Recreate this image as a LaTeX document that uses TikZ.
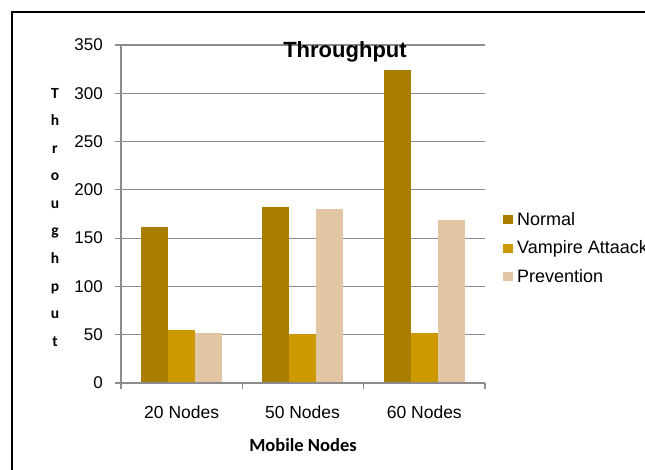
\documentclass[tikz,border=0pt]{standalone}
\usepackage{fontspec}
\setmainfont{Liberation Sans}
\newfontfamily\calibfont{Carlito}
\definecolor{cnormal}{RGB}{168,125,0}
\definecolor{cvamp}{RGB}{204,153,0}
\definecolor{cprev}{RGB}{226,197,163}
\definecolor{cgrid}{RGB}{140,140,140}
\begin{document}
\begin{tikzpicture}[x=1pt,y=-1pt,
  gridline/.style={draw=cgrid,line width=1.2pt},
  axisline/.style={draw=cgrid,line width=1.2pt},
  ticklab/.style={font=\fontsize{17}{17}\selectfont,inner sep=0pt,anchor=east},
  catlab/.style={font=\fontsize{17.5}{17.5}\selectfont,inner sep=0pt,anchor=base},
  ylet/.style={font=\calibfont\fontsize{15.5}{15.5}\selectfont\bfseries,inner sep=0pt,anchor=base},
  legtext/.style={font=\fontsize{18}{18}\selectfont,inner sep=0pt,anchor=base west},
  legbox/.style={minimum size=9.5pt,inner sep=0pt,draw=none},
  bar/.style={draw=none}]
\useasboundingbox (0,0) rectangle (645,470);
\fill[white] (0,0) rectangle (645,470);
% frame
\draw[line width=2.4pt] (12,480) -- (12,12) -- (660,12);
% gridlines and ticks
\foreach \v in {50,100,...,350} {
  \draw[gridline] (121,{383-0.9657*\v}) -- (485,{383-0.9657*\v});
}
\foreach \v in {0,50,...,350} {
  \draw[axisline] (115,{383-0.9657*\v}) -- (121,{383-0.9657*\v});
  \node[ticklab] (t\v) at (103,{383-0.9657*\v}) {\v};
}
% bars
\foreach \g/\a/\b/\c in {0/162/55/52, 1/182/51/180, 2/324/52/169} {
  \pgfmathsetmacro{\xs}{141+121.3*\g}
  \fill[cnormal] (\xs,383) rectangle ({\xs+27},{383-0.9657*\a});
  \fill[cvamp] ({\xs+27},383) rectangle ({\xs+54},{383-0.9657*\b});
  \fill[cprev] ({\xs+54},383) rectangle ({\xs+81},{383-0.9657*\c});
}
% axes
\draw[axisline] (121,45) -- (121,383) -- (485,383);
\foreach \x in {121,242.3,363.7,485} {
  \draw[axisline] (\x,383) -- (\x,389);
}
% category labels
\node[catlab] (c20) at (181.7,418) {20 Nodes};
\node[catlab] (c50) at (302.5,418) {50 Nodes};
\node[catlab] (c60) at (424.3,418) {60 Nodes};
% x-axis title
\node[font=\calibfont\fontsize{18.5}{18.5}\selectfont\bfseries,inner sep=0pt,anchor=base] (xt) at (303,451) {Mobile Nodes};
% title
\node[font=\fontsize{22}{22}\selectfont\bfseries,inner sep=0pt,anchor=base] (title) at (345,57.7) {Throughput};
% y-axis title (stacked letters)
\foreach \l [count=\i from 0] in {T,h,r,o,u,g,h,p,u,t} {
  \node[ylet] (yl\i) at (55,{98.5+27.5*\i}) {\l};
}
% legend
\node[legbox,fill=cnormal] (lb1) at (508,219.7) {};
\node[legtext] (lt1) at (517,225.7) {Normal};
\node[legbox,fill=cvamp] (lb2) at (508,248.7) {};
\node[legtext] (lt2) at (517,253.5) {Vampire Attaack};
\node[legbox,fill=cprev] (lb3) at (508,276.3) {};
\node[legtext] (lt3) at (517,282.7) {Prevention};
\end{tikzpicture}
\end{document}
